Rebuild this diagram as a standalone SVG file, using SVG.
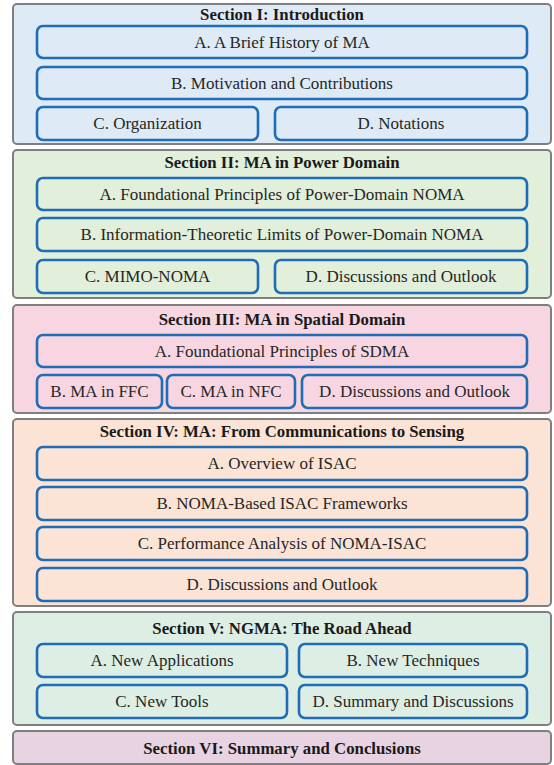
<svg xmlns="http://www.w3.org/2000/svg" width="554" height="765" viewBox="0 0 554 765">
<style>
.sec{stroke:#7f7f7f;stroke-width:2}
.node{fill:none;stroke:#1f6cb9;stroke-width:2.6}
.t{font-family:"Liberation Serif","Times New Roman",serif;font-size:17px;fill:#262626;text-anchor:middle}
.h{font-family:"Liberation Serif","Times New Roman",serif;font-size:16.8px;font-weight:bold;fill:#1a1a1a;text-anchor:middle}
</style>
<rect width="554" height="765" fill="#ffffff"/>
<g id="sec1">
<rect class="sec" x="13" y="4" width="538" height="140" rx="4" fill="#deebf6"/>
<text class="h" x="282" y="20">Section I: Introduction</text>
<g id="sec1-a"><rect class="node" x="37" y="26" width="490" height="32" rx="6"/><text class="t" x="282" y="48">A. A Brief History of MA</text></g>
<g id="sec1-b"><rect class="node" x="37" y="67" width="490" height="32" rx="6"/><text class="t" x="282" y="89">B. Motivation and Contributions</text></g>
<g id="sec1-c"><rect class="node" x="37" y="107" width="221" height="33" rx="6"/><text class="t" x="147.5" y="129">C. Organization</text></g>
<g id="sec1-d"><rect class="node" x="275" y="107" width="252" height="33" rx="6"/><text class="t" x="401" y="129">D. Notations</text></g>
</g>
<g id="sec2">
<rect class="sec" x="13" y="150" width="538" height="148" rx="4" fill="#e2efda"/>
<text class="h" x="282" y="168">Section II: MA in Power Domain</text>
<g id="sec2-a"><rect class="node" x="37" y="178" width="490" height="32" rx="6"/><text class="t" x="282" y="200">A. Foundational Principles of Power-Domain NOMA</text></g>
<g id="sec2-b"><rect class="node" x="37" y="218" width="490" height="33" rx="6"/><text class="t" x="282" y="240">B. Information-Theoretic Limits of Power-Domain NOMA</text></g>
<g id="sec2-c"><rect class="node" x="37" y="260" width="221" height="33" rx="6"/><text class="t" x="147.5" y="282">C. MIMO-NOMA</text></g>
<g id="sec2-d"><rect class="node" x="275" y="260" width="252" height="33" rx="6"/><text class="t" x="401" y="282">D. Discussions and Outlook</text></g>
</g>
<g id="sec3">
<rect class="sec" x="13" y="305" width="538" height="108" rx="4" fill="#f7d6e2"/>
<text class="h" x="282" y="325">Section III: MA in Spatial Domain</text>
<g id="sec3-a"><rect class="node" x="37" y="335" width="490" height="32" rx="6"/><text class="t" x="282" y="357">A. Foundational Principles of SDMA</text></g>
<g id="sec3-b"><rect class="node" x="37" y="375" width="125" height="33" rx="6"/><text class="t" x="99.5" y="397">B. MA in FFC</text></g>
<g id="sec3-c"><rect class="node" x="167" y="375" width="128" height="33" rx="6"/><text class="t" x="231" y="397">C. MA in NFC</text></g>
<g id="sec3-d"><rect class="node" x="302" y="375" width="225" height="33" rx="6"/><text class="t" x="414.5" y="397">D. Discussions and Outlook</text></g>
</g>
<g id="sec4">
<rect class="sec" x="13" y="419" width="538" height="187" rx="4" fill="#fbe4d6"/>
<text class="h" x="282" y="437">Section IV: MA: From Communications to Sensing</text>
<g id="sec4-a"><rect class="node" x="37" y="447" width="490" height="33" rx="6"/><text class="t" x="282" y="469">A. Overview of ISAC</text></g>
<g id="sec4-b"><rect class="node" x="37" y="487" width="490" height="33" rx="6"/><text class="t" x="282" y="509">B. NOMA-Based ISAC Frameworks</text></g>
<g id="sec4-c"><rect class="node" x="37" y="527" width="490" height="33" rx="6"/><text class="t" x="282" y="549">C. Performance Analysis of NOMA-ISAC</text></g>
<g id="sec4-d"><rect class="node" x="37" y="568" width="490" height="33" rx="6"/><text class="t" x="282" y="590">D. Discussions and Outlook</text></g>
</g>
<g id="sec5">
<rect class="sec" x="13" y="612" width="538" height="113" rx="4" fill="#ddeee4"/>
<text class="h" x="282" y="634">Section V: NGMA: The Road Ahead</text>
<g id="sec5-a"><rect class="node" x="37" y="644" width="250" height="33" rx="6"/><text class="t" x="162" y="666">A. New Applications</text></g>
<g id="sec5-b"><rect class="node" x="299" y="644" width="228" height="33" rx="6"/><text class="t" x="413" y="666">B. New Techniques</text></g>
<g id="sec5-c"><rect class="node" x="37" y="685" width="250" height="33" rx="6"/><text class="t" x="162" y="707">C. New Tools</text></g>
<g id="sec5-d"><rect class="node" x="299" y="685" width="228" height="33" rx="6"/><text class="t" x="413" y="707">D. Summary and Discussions</text></g>
</g>
<g id="sec6">
<rect class="sec" x="13" y="731" width="538" height="33" rx="4" fill="#e8d3e2"/>
<text class="h" x="282" y="754">Section VI: Summary and Conclusions</text>
</g>
<g id="connectors"></g>
</svg>
